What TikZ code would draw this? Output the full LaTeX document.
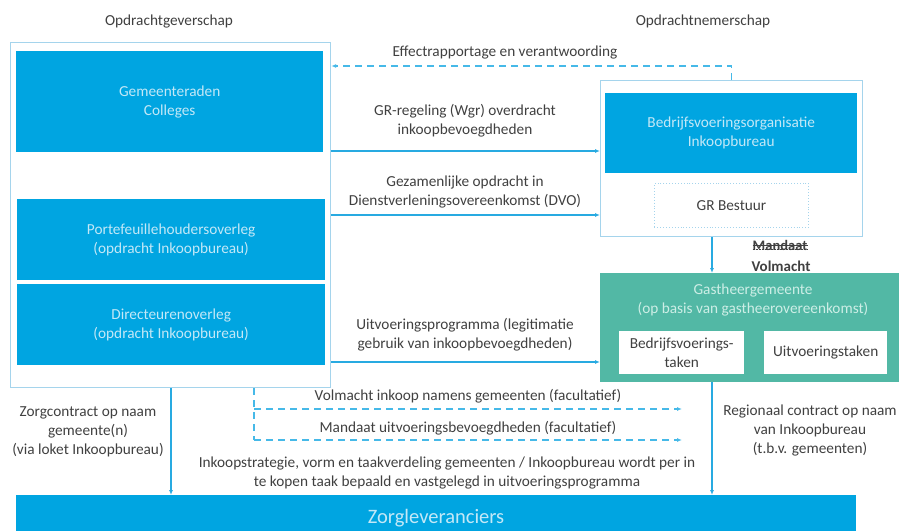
\documentclass[tikz,border=0pt]{standalone}
\usepackage{fontspec}
\setmainfont{Carlito}
\usetikzlibrary{arrows.meta}
\definecolor{cblue}{RGB}{0,165,225}
\definecolor{cteal}{RGB}{82,184,165}
\definecolor{cframe}{RGB}{165,212,236}
\definecolor{cline}{RGB}{40,170,225}
\definecolor{cdash}{RGB}{70,185,232}
\definecolor{ctext}{RGB}{64,64,64}
\definecolor{cboxtext}{RGB}{195,232,247}
\definecolor{ctealtext}{RGB}{205,238,230}
\begin{document}
\begin{tikzpicture}[x=1pt,y=-1pt,
  every node/.style={font=\fontsize{15.3}{19}\selectfont, text=ctext, inner sep=0pt, align=center},
  frame/.style={draw=cframe, line width=1.2pt, anchor=north west},
  bluebox/.style={fill=cblue, anchor=north west, text=cboxtext},
  whitebox/.style={fill=white, anchor=north west},
  conn/.style={draw=cline, line width=1.3pt, -{Latex[length=5pt,width=4pt]}},
  dashconn/.style={draw=cdash, line width=1.5pt, dash pattern=on 7pt off 5pt},
  lbl/.style={text=ctext}]
\useasboundingbox (0,0) rectangle (899,530);

% headings
\node[lbl] (hgev) at (169,22) {Opdrachtgeverschap};
\node[lbl] (hnem) at (703,21) {Opdrachtnemerschap};

% left frame and boxes
\node[frame, minimum width=320pt, minimum height=345pt] (outerL) at (10,42) {};
\node[bluebox, minimum width=307pt, minimum height=101pt] (gem) at (16,51) {Gemeenteraden\\Colleges};
\node[bluebox, minimum width=308pt, minimum height=81pt] (port) at (17,199) {Portefeuillehoudersoverleg\\(opdracht Inkoopbureau)};
\node[bluebox, minimum width=308pt, minimum height=81pt] (dir) at (17,284) {Directeurenoverleg\\(opdracht Inkoopbureau)};

% right frame
\node[frame, minimum width=262pt, minimum height=156pt] (outerR) at (600,80) {};
\node[bluebox, minimum width=252pt, minimum height=80pt] (bvo) at (605,93) {Bedrijfsvoeringsorganisatie\\Inkoopbureau};
\node[draw=cframe, line width=0.9pt, dotted, anchor=north west, minimum width=154pt, minimum height=44pt] (grb) at (654,183) {GR Bestuur};

% Gastheergemeente
\node[fill=cteal, anchor=north west, minimum width=299pt, minimum height=109pt] (gast) at (600,273) {};
\node[text=ctealtext] (gastt) at (753,299.5) {Gastheergemeente\\(op basis van gastheerovereenkomst)};
\node[whitebox, minimum width=125pt, minimum height=43pt] (bvt) at (619,331) {Bedrijfsvoerings-\\taken};
\node[whitebox, minimum width=123pt, minimum height=43pt] (uvt) at (764,331) {Uitvoeringstaken};

% Zorgleveranciers
\node[fill=cblue, anchor=north west, minimum width=840pt, minimum height=40pt] (zorg) at (16,495) {};
\node[text=cboxtext, font=\fontsize{20.5}{24}\selectfont] (zorgt) at (436,518) {Zorgleveranciers};

% helper coordinates
\coordinate (ey) at (0,66);
\coordinate (gy) at (0,151);
\coordinate (dy) at (0,215);
\coordinate (uy) at (0,362);
\coordinate (vx) at (712,0);
\coordinate (zx) at (171,0);
\coordinate (dx) at (254,0);
\coordinate (d1) at (682,409);
\coordinate (d2) at (682,440);

% Effectrapportage
\draw[dashconn, -{Latex[length=5pt,width=4pt]}] (outerR.north) |- (outerL.east |- ey);
\node[lbl] (effl) at (505,53) {Effectrapportage en verantwoording};

% GR-regeling
\draw[conn] (outerL.east |- gy) -- (outerR.west |- gy);
\node[lbl] (grl) at (465,121) {GR-regeling (Wgr) overdracht\\inkoopbevoegdheden};

% DVO
\draw[conn] (outerL.east |- dy) -- (outerR.west |- dy);
\node[lbl] (dvol) at (465,191.5) {Gezamenlijke opdracht in\\Dienstverleningsovereenkomst (DVO)};

% Uitvoeringsprogramma
\draw[conn] (outerL.east |- uy) -- (gast.west |- uy);
\node[lbl] (uvl) at (465,334.5) {Uitvoeringsprogramma (legitimatie\\gebruik van inkoopbevoegdheden)};

% Volmacht
\draw[conn] (outerR.south -| vx) -- (gast.north -| vx);
\node[lbl, font=\bfseries\fontsize{14.5}{16}\selectfont] (mand) at (780,245) {Mandaat};
\draw[ctext, line width=0.8pt] (mand.west) -- (mand.east);
\draw[ctext, line width=0.5pt, densely dotted] ([yshift=1pt]mand.south west) -- ([yshift=1pt]mand.south east);
\node[lbl, font=\bfseries\fontsize{15}{17}\selectfont] (volm) at (781,266) {Volmacht};

% bottom contracts
\draw[conn] (outerL.south -| zx) -- (zorg.north -| zx);
\node[lbl] (zcl) at (88,432) {Zorgcontract op naam\\gemeente(n)\\(via loket Inkoopbureau)};
\draw[conn] (gast.south -| vx) -- (zorg.north -| vx);
\node[lbl] (rcl) at (810,430) {Regionaal contract op naam\\van Inkoopbureau\\(t.b.v. gemeenten)};

% dashed facultative
\draw[dashconn] (outerL.south -| dx) -- (dx |- d2);
\draw[dashconn, -{Latex[length=5pt,width=4pt]}] (dx |- d1) -- (d1);
\draw[dashconn, -{Latex[length=5pt,width=4pt]}] (dx |- d2) -- (d2);
\node[lbl] (vml) at (468,396) {Volmacht inkoop namens gemeenten (facultatief)};
\node[lbl] (mdl) at (468,428) {Mandaat uitvoeringsbevoegdheden (facultatief)};
\node[lbl] (isl) at (447,472.5) {Inkoopstrategie, vorm en taakverdeling gemeenten / Inkoopbureau wordt per in\\te kopen taak bepaald en vastgelegd in uitvoeringsprogramma};
\end{tikzpicture}
\end{document}
